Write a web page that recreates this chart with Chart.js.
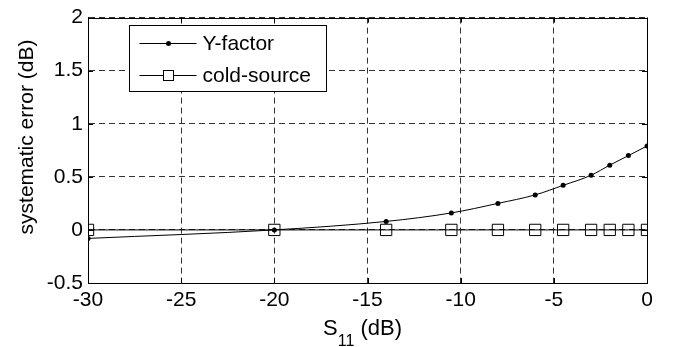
<!DOCTYPE html>
<html>
<head>
<meta charset="utf-8">
<script src="https://cdn.jsdelivr.net/npm/chart.js@4/dist/chart.umd.min.js"></script>
<style>
  html, body { margin: 0; padding: 0; background: #fff; }
  #wrap { width: 683px; height: 347px; }
</style>
</head>
<body>
<div id="wrap"><canvas id="chart" width="683" height="347"></canvas></div>
<script>
// S11 in dB where markers sit
const s11 = [-30, -20, -14, -10.5, -8, -6, -4.5, -3, -2, -1, 0];
// systematic error (dB)
const yFactor = [-0.08, 0, 0.08, 0.16, 0.25, 0.33, 0.42, 0.515, 0.61, 0.70, 0.79];
const coldSource = [0, 0, 0, 0, 0, 0, 0, 0, 0, 0, 0];
const seriesNames = ["Y-factor", "cold-source"];
const xTicks = [-30, -25, -20, -15, -10, -5, 0];
const yTicks = [-0.5, 0, 0.5, 1, 1.5, 2];

const FONT = "'Liberation Sans', Arial, sans-serif";

// box, inward ticks, legend and axis titles, matlab style
const matlabLook = {
    id: "matlabLook",
    afterDatasetsDraw(chart) {
        const ctx = chart.ctx;
        const a = chart.chartArea;
        const xs = chart.scales.x, ys = chart.scales.y;
        ctx.save();
        ctx.strokeStyle = "#000";
        ctx.lineWidth = 1;
        ctx.setLineDash([]);
        ctx.beginPath();
        xTicks.forEach(v => {
            const px = Math.round(xs.getPixelForValue(v)) + 0.5;
            ctx.moveTo(px, a.bottom); ctx.lineTo(px, a.bottom - 5);
            ctx.moveTo(px, a.top); ctx.lineTo(px, a.top + 5);
        });
        yTicks.forEach(v => {
            const py = Math.round(ys.getPixelForValue(v)) + 0.5;
            ctx.moveTo(a.left, py); ctx.lineTo(a.left + 5, py);
            ctx.moveTo(a.right, py); ctx.lineTo(a.right - 5, py);
        });
        ctx.stroke();
        ctx.strokeRect(Math.round(a.left) + 0.5, Math.round(a.top) + 0.5,
            Math.round(a.right - a.left), Math.round(a.bottom - a.top));

        // legend
        const lx = 129.5, ly = 25.5, lw = 197, lh = 66;
        ctx.fillStyle = "#fff";
        ctx.fillRect(lx, ly, lw, lh);
        ctx.strokeRect(lx, ly, lw, lh);
        ctx.font = "21px " + FONT;
        ctx.textBaseline = "middle";
        [0, 1].forEach(i => {
            const cy = Math.round(ly + 17 + i * 32) + 0.5;
            ctx.strokeStyle = "#000";
            ctx.beginPath();
            ctx.moveTo(lx + 10, cy); ctx.lineTo(lx + 67, cy);
            ctx.stroke();
            const mx = Math.round(lx + 38) + 0.5;
            if (i === 0) {
                ctx.fillStyle = "#000";
                ctx.beginPath(); ctx.arc(mx, cy, 2.5, 0, Math.PI * 2); ctx.fill();
            } else {
                ctx.fillStyle = "#fff";
                ctx.fillRect(mx - 5, cy - 5, 10, 10);
                ctx.strokeRect(mx - 5, cy - 5, 10, 10);
            }
            ctx.fillStyle = "#000";
            ctx.textAlign = "left";
            ctx.fillText(seriesNames[i], lx + 73, cy + 1);
        });

        // x title with subscript
        ctx.fillStyle = "#000";
        ctx.textAlign = "left";
        ctx.textBaseline = "alphabetic";
        ctx.font = "22px " + FONT;
        let tx = 323;
        ctx.fillText("S", tx, 335);
        tx += ctx.measureText("S").width;
        ctx.font = "16px " + FONT;
        ctx.fillText("11", tx, 346);
        tx += ctx.measureText("11").width;
        ctx.font = "22px " + FONT;
        ctx.fillText(" (dB)", tx, 335);

        // y title
        ctx.translate(27, 137);
        ctx.rotate(-Math.PI / 2);
        ctx.font = "21px " + FONT;
        ctx.textAlign = "center";
        ctx.textBaseline = "middle";
        ctx.fillText("systematic error (dB)", 0, 0);
        ctx.restore();
    }
};

new Chart(document.getElementById("chart"), {
    type: "line",
    data: {
        labels: s11,
        datasets: [{
            label: seriesNames[0],
            data: s11.map((x, i) => ({ x: x, y: yFactor[i] })),
            borderColor: "#000",
            borderWidth: 1,
            backgroundColor: "#000",
            pointStyle: "circle",
            pointRadius: 2.5,
            pointBorderWidth: 0,
            cubicInterpolationMode: "monotone",
            fill: false
        }, {
            label: seriesNames[1],
            data: s11.map((x, i) => ({ x: x, y: coldSource[i] })),
            borderColor: "#000",
            borderWidth: 1,
            backgroundColor: "rgba(0,0,0,0)",
            pointStyle: "rect",
            pointRadius: 8,
            pointBorderWidth: 1,
            fill: false
        }]
    },
    plugins: [matlabLook],
    options: {
        responsive: false,
        animation: false,
        layout: { padding: { top: 13, right: 36, left: 0, bottom: 0 } },
        plugins: { legend: { display: false }, tooltip: { enabled: false } },
        scales: {
            x: {
                type: "linear",
                min: -30, max: 0,
                afterBuildTicks: s => { s.ticks = xTicks.map(v => ({ value: v })); },
                afterFit: s => { s.height = 64; },
                border: { display: true, color: "#000", width: 1, dash: [6, 4] },
                grid: { color: "#333", drawTicks: false, lineWidth: 1 },
                ticks: { color: "#000", padding: 5, font: { family: FONT, size: 21 }, maxRotation: 0 }
            },
            y: {
                min: -0.5, max: 2,
                afterBuildTicks: s => { s.ticks = yTicks.map(v => ({ value: v })); },
                afterFit: s => { s.width = 88; },
                border: { display: true, color: "#000", width: 1, dash: [6, 4] },
                grid: { color: "#333", drawTicks: false, lineWidth: 1 },
                ticks: { color: "#000", padding: 5, font: { family: FONT, size: 21 },
                    callback: v => String(v) }
            }
        }
    }
});
</script>
</body>
</html>
